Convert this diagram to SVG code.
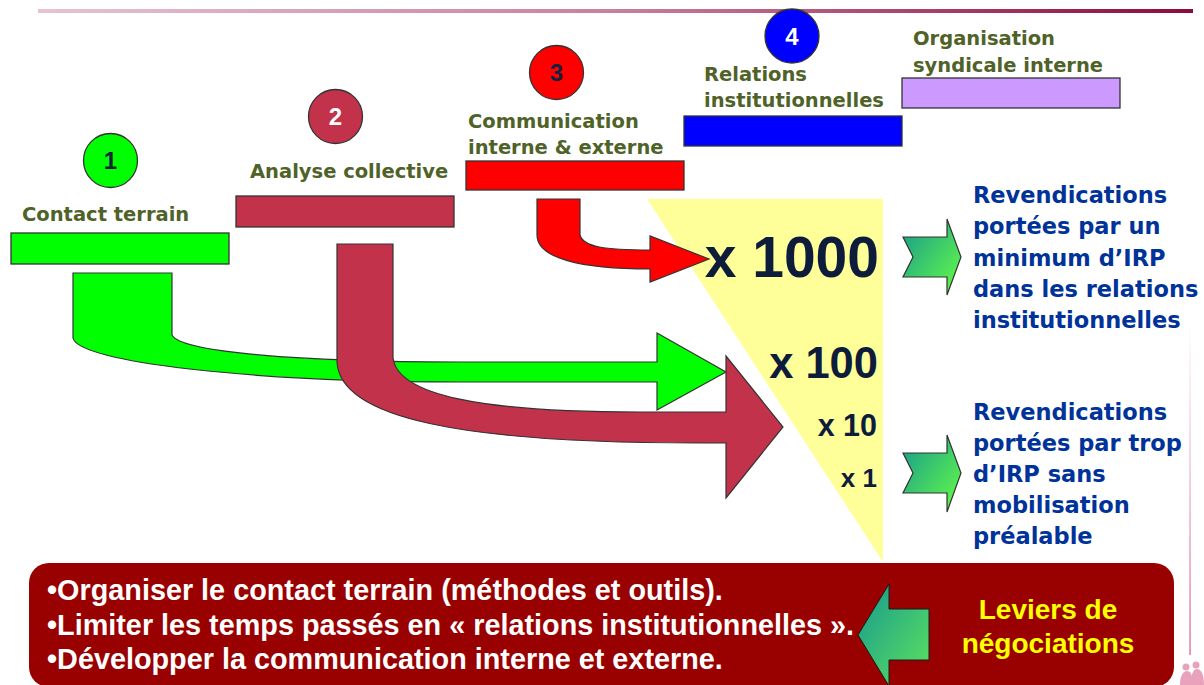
<svg xmlns="http://www.w3.org/2000/svg" width="1204" height="685" viewBox="0 0 1204 685">
<defs>
<linearGradient id="topline" x1="0" y1="0" x2="1" y2="0">
<stop offset="0" stop-color="#e6c3d3"/><stop offset="0.5" stop-color="#c77f9f"/><stop offset="1" stop-color="#8c0b3f"/>
</linearGradient>
<linearGradient id="vline" x1="0" y1="0" x2="0" y2="1">
<stop offset="0" stop-color="#ffffff"/><stop offset="1" stop-color="#e07aa2"/>
</linearGradient>
<linearGradient id="gArrow" x1="0" y1="0" x2="1" y2="1">
<stop offset="0" stop-color="#16998e"/><stop offset="1" stop-color="#66ff44"/>
</linearGradient>
<linearGradient id="gArrowL" x1="0" y1="0" x2="1" y2="1">
<stop offset="0" stop-color="#16998e"/><stop offset="1" stop-color="#5ee35e"/>
</linearGradient>
<style>
.lbl{font-family:"DejaVu Sans",Verdana,sans-serif;font-weight:bold;font-size:19.5px;fill:#4f6228}
.num{font-family:"Liberation Sans",Arial,sans-serif;font-weight:bold;font-size:24px;text-anchor:middle}
.bar{stroke:#333333;stroke-width:1.3}
.circ{stroke:#333333;stroke-width:1.3}
.conn{stroke:#333333;stroke-width:1.2;stroke-linejoin:miter}
.mult{font-family:"Liberation Sans",Arial,sans-serif;font-weight:bold;fill:#0d1c3a;text-anchor:end}
.out{font-family:"DejaVu Sans",Verdana,sans-serif;font-weight:bold;font-size:22.5px;fill:#003399}
.bul{font-family:"Liberation Sans",Arial,sans-serif;font-weight:bold;font-size:28.8px;fill:#ffffff}
.lev{font-family:"Liberation Sans",Arial,sans-serif;font-weight:bold;font-size:28px;fill:#ffff00;text-anchor:middle}
.garrow{fill:url(#gArrow);stroke:#333333;stroke-width:1.2}
</style>
</defs>
<rect width="1204" height="685" fill="#ffffff"/>
<!-- slide decorations -->
<rect x="38" y="9" width="1155" height="4" fill="url(#topline)"/>
<rect x="1189.3" y="320" width="1.5" height="335" fill="url(#vline)"/>
<g id="deco-figure" fill="#e8a2bb">
<circle cx="1186" cy="667" r="3.5"/>
<circle cx="1196" cy="665" r="3.5"/>
<path d="M1180,685 C1180,676 1183,671 1187,671 C1191,671 1193,676 1193,685 Z"/>
<path d="M1191,685 C1191,674 1193,669 1197,669 C1201,669 1204,674 1204,685 Z"/>
</g>

<!-- yellow multiplier triangle -->
<g id="multiplier">
<polygon points="647,199 883,199 883,562" fill="#ffff99"/>
</g>

<!-- connectors -->
<g id="connectors">
<path id="arrow-green" class="conn" fill="#00ff00" d="M73,273 H172 V335 C180,352 300,362 460,362 H657 V333 L726,372 L657,410 V382 H460 C250,382 78,362 73,338 Z"/>
<path id="arrow-maroon" class="conn" fill="#c3324b" d="M337,244 H393 V358 C398,395 480,412 640,412 H726 V356 L783,427 L726,498 V443 H700 C460,443 340,418 337,362 Z"/>
<path id="arrow-red" class="conn" fill="#ff0000" d="M537,199 H580 V235 C583,247 605,250 650,250 V236 L709,259 L650,282 V269 C580,269 537,258 537,235 Z"/>
</g>

<g id="multiplier-labels">
<text class="mult" x="879" y="277" font-size="57">x 1000</text>
<text class="mult" x="878" y="378" font-size="43.5">x 100</text>
<text class="mult" x="877" y="436" font-size="30.5">x 10</text>
<text class="mult" x="877" y="487" font-size="26">x 1</text>
</g>

<!-- nodes -->
<g id="node-1">
<circle class="circ" cx="110.5" cy="160.5" r="27" fill="#00ff00"/>
<text class="num" x="110.5" y="169" fill="#13213f">1</text>
<text class="lbl" x="22" y="221">Contact terrain</text>
<rect class="bar" x="11" y="233" width="218" height="31" fill="#00ff00"/>
</g>
<g id="node-2">
<circle class="circ" cx="335.5" cy="116.5" r="27" fill="#c3324b"/>
<text class="num" x="335.5" y="125" fill="#ffffff">2</text>
<text class="lbl" x="250" y="178">Analyse collective</text>
<rect class="bar" x="236" y="196" width="218" height="31" fill="#c3324b"/>
</g>
<g id="node-3">
<circle class="circ" cx="556.5" cy="72.5" r="27" fill="#ff0000"/>
<text class="num" x="556.5" y="81" fill="#13213f">3</text>
<text class="lbl" x="468" y="128">Communication</text>
<text class="lbl" x="468" y="154">interne &amp; externe</text>
<rect class="bar" x="466" y="161" width="218" height="29" fill="#ff0000"/>
</g>
<g id="node-4">
<circle class="circ" cx="792" cy="36" r="27" fill="#0000ff"/>
<text class="num" x="792" y="44.5" fill="#ffffff">4</text>
<text class="lbl" x="704" y="81">Relations</text>
<text class="lbl" x="704" y="107">institutionnelles</text>
<rect class="bar" x="684" y="116" width="218" height="30" fill="#0000ff"/>
</g>
<g id="node-5">
<text class="lbl" x="913" y="45">Organisation</text>
<text class="lbl" x="913" y="72">syndicale interne</text>
<rect class="bar" x="902" y="78" width="218" height="30" fill="#cc99ff"/>
</g>

<!-- outcomes -->
<g id="outcome-1">
<polygon class="garrow" points="903,237 947,237 947,219 961,257 947,295 947,277 903,277 913,257"/>
<text class="out" x="973" y="203">Revendications</text>
<text class="out" x="973" y="234">portées par un</text>
<text class="out" x="973" y="266">minimum d’IRP</text>
<text class="out" x="973" y="297">dans les relations</text>
<text class="out" x="973" y="328">institutionnelles</text>
</g>
<g id="outcome-2">
<polygon class="garrow" points="903,453 947,453 947,435 961,473 947,512 947,493 903,493 913,473"/>
<text class="out" x="973" y="420">Revendications</text>
<text class="out" x="973" y="451">portées par trop</text>
<text class="out" x="973" y="482">d’IRP sans</text>
<text class="out" x="973" y="513">mobilisation</text>
<text class="out" x="973" y="544">préalable</text>
</g>

<!-- levers box -->
<g id="levers">
<rect x="29" y="563" width="1145" height="124" rx="20" ry="20" fill="#990000"/>
<text class="bul" x="47" y="600">•Organiser le contact terrain (méthodes et outils).</text>
<text class="bul" x="47" y="635">•Limiter les temps passés en « relations institutionnelles ».</text>
<text class="bul" x="47" y="669">•Développer la communication interne et externe.</text>
<polygon points="858,635 889,584 889,609 929,609 929,660 889,660 889,686" fill="url(#gArrowL)" stroke="#1a1a1a" stroke-width="1"/>
<text class="lev" x="1048" y="619">Leviers de</text>
<text class="lev" x="1048" y="653">négociations</text>
</g>
</svg>
